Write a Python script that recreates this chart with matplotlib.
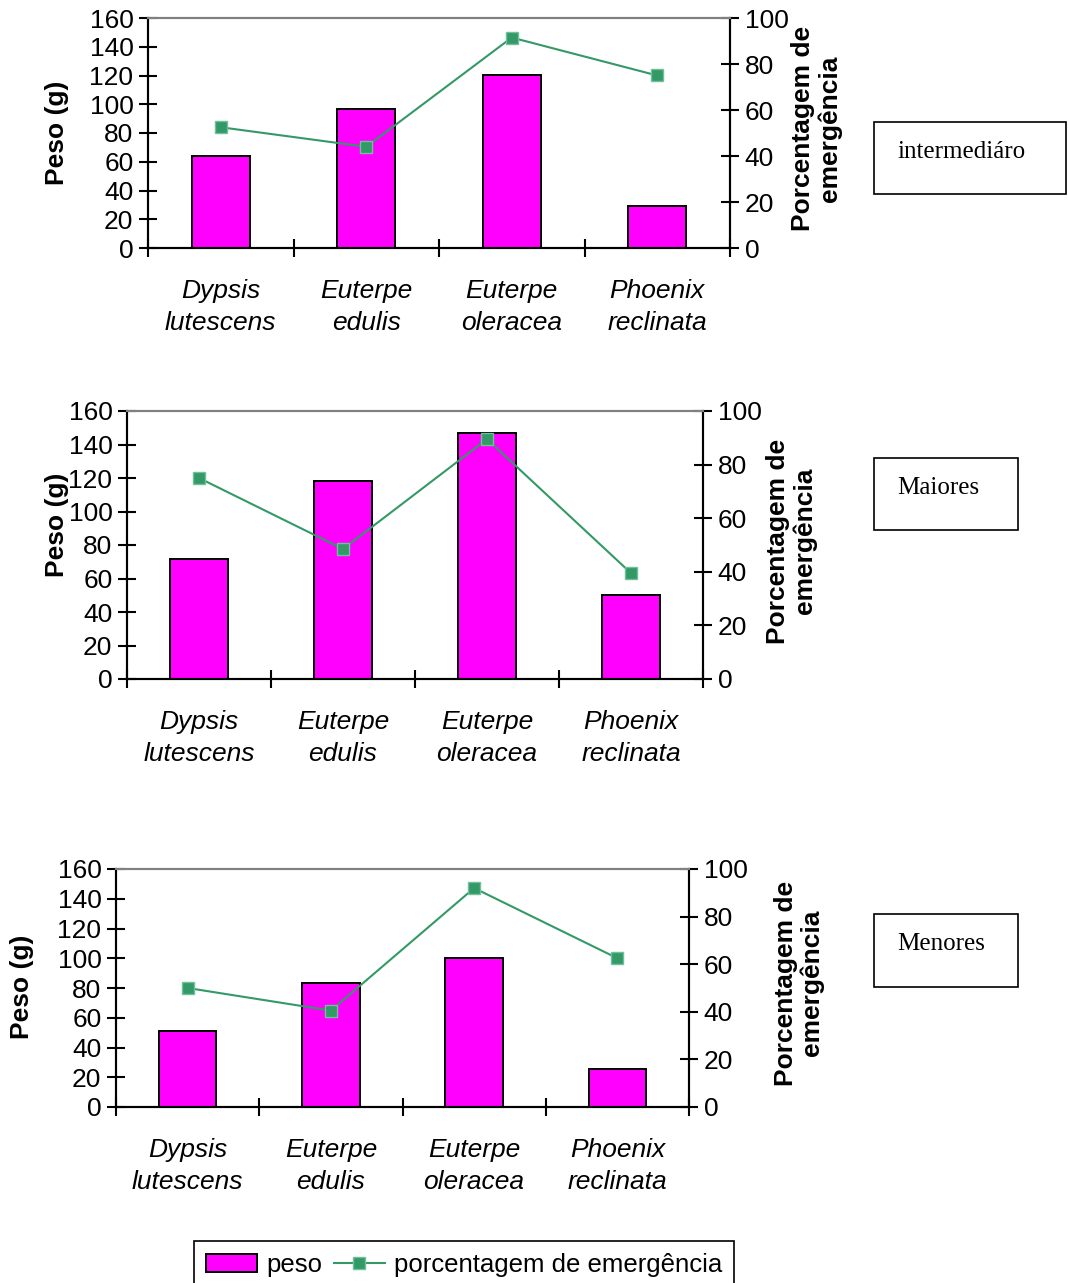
import matplotlib
matplotlib.use('Agg')
import matplotlib.pyplot as plt
from matplotlib.patches import Rectangle, Patch
from matplotlib.lines import Line2D

plt.rcParams['font.family'] = ['Liberation Sans', 'DejaVu Sans']

# ============================================
# Data
# ============================================
especies = ['Dypsis\nlutescens', 'Euterpe\nedulis', 'Euterpe\noleracea', 'Phoenix\nreclinata']

# intermediario
peso_inter = [64, 97, 120.5, 29]
emerg_inter = [52.5, 44, 91.5, 75]

# maiores
peso_maiores = [71.5, 118, 147, 50]
emerg_maiores = [75, 48.5, 89.5, 39.5]

# menores
peso_menores = [51, 83.5, 100.5, 25.5]
emerg_menores = [50, 40.5, 92, 62.5]

grupos = ['intermediáro', 'Maiores', 'Menores']

W, H = 1068, 1283
fig = plt.figure(figsize=(W / 100, H / 100), dpi=100)

def fx(px):
    return px / W

def fy(py):
    return 1 - py / H

# axes boxes in pixels: left, top, right, bottom
caixas = [(148, 18, 730, 248), (127, 411, 703, 679), (116, 869, 689, 1107)]
# label positions (axes coords) for left and right y labels
lab_esq = [(-0.156, 0.5), (-0.122, 0.575), (-0.164, 0.504)]
lab_dir = [(1.148, 0.52), (1.153, 0.515), (1.192, 0.52)]
# text boxes in pixels: left, top, right, bottom
caixas_txt = [(874, 122, 1066, 194), (874, 458, 1018, 530), (874, 914, 1018, 987)]

verde = '#339966'
magenta = '#FF00FF'

dados = [(peso_inter, emerg_inter), (peso_maiores, emerg_maiores), (peso_menores, emerg_menores)]

for k, (peso, emerg) in enumerate(dados):
    l, t, r, b = caixas[k]
    ax = fig.add_axes([fx(l), fy(b), fx(r) - fx(l), fy(t) - fy(b)])
    x = range(len(especies))
    ax.bar(x, peso, width=0.4, color=magenta, edgecolor='black', linewidth=1.4, zorder=2)
    ax.set_xlim(-0.5, 3.5)
    ax.set_ylim(0, 160)
    ax.set_yticks(range(0, 161, 20))
    ax.set_xticks(list(x))
    ax.set_xticklabels(especies, fontsize=19, style='italic', linespacing=1.45)
    ax.set_xticks([-0.5, 0.5, 1.5, 2.5, 3.5], minor=True)
    ax.tick_params(axis='x', which='major', length=0, pad=22)
    ax.tick_params(axis='x', which='minor', direction='inout', length=13, width=1.5)
    ax.tick_params(axis='y', direction='inout', length=13, width=1.5, labelsize=19, pad=4)
    ax.set_ylabel('Peso (g)', fontsize=19, fontweight='bold')
    ax.yaxis.set_label_coords(*lab_esq[k])
    ax.yaxis.label.set_verticalalignment('center')

    for s in ['left', 'bottom', 'right']:
        ax.spines[s].set_linewidth(1.5)
    ax.spines['top'].set_color('#808080')
    ax.spines['top'].set_linewidth(1.5)

    ax2 = ax.twinx()
    ax2.plot(x, emerg, color=verde, linewidth=1.5, marker='s', markersize=8,
             markerfacecolor=verde, markeredgecolor='#6fc19a', markeredgewidth=1, zorder=3)
    ax2.set_ylim(0, 100)
    ax2.set_yticks(range(0, 101, 20))
    ax2.tick_params(axis='y', direction='inout', length=13, width=1.5, labelsize=19, pad=4)
    ax2.set_ylabel('Porcentagem de\nemergência', fontsize=19, fontweight='bold', linespacing=1.12)
    ax2.yaxis.set_label_coords(*lab_dir[k])
    ax2.yaxis.label.set_verticalalignment('center')
    for s in ['left', 'bottom', 'right']:
        ax2.spines[s].set_linewidth(1.5)
    ax2.spines['top'].set_color('#808080')
    ax2.spines['top'].set_linewidth(1.5)

    # group name box
    bl, bt, br, bb = caixas_txt[k]
    fig.patches.append(Rectangle((fx(bl), fy(bb)), fx(br) - fx(bl), fy(bt) - fy(bb),
                                 transform=fig.transFigure, fill=False,
                                 edgecolor='black', linewidth=1.2))
    fig.text(fx(bl + 23), fy(bt + 30), grupos[k], fontsize=18,
             family='Liberation Serif', ha='left', va='center')

handles = [Patch(facecolor=magenta, edgecolor='black', linewidth=1.4),
           Line2D([], [], color=verde, linewidth=1.5, marker='s', markersize=8,
                  markerfacecolor=verde, markeredgecolor='#6fc19a')]
leg = fig.legend(handles, ['peso', 'porcentagem de emergência'], loc='upper left',
                 bbox_to_anchor=(fx(194), fy(1241)), ncol=2, fontsize=18.5,
                 frameon=True, fancybox=False, framealpha=1, edgecolor='black',
                 handlelength=2.0, handletextpad=0.35, columnspacing=0.45,
                 borderpad=0.45, borderaxespad=0)
leg.get_frame().set_linewidth(1.2)

plt.savefig('out.png', dpi=100)
